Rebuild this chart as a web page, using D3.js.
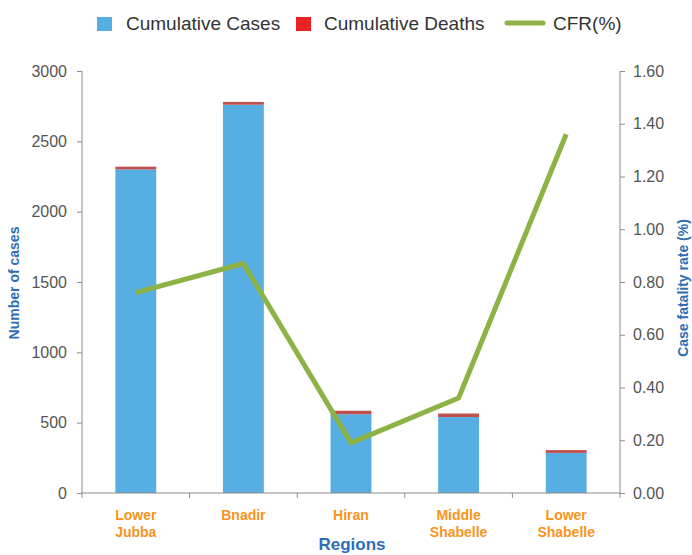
<!DOCTYPE html>
<html><head><meta charset="utf-8">
<script src="https://cdn.jsdelivr.net/npm/d3@7"></script>
<style>body{margin:0;background:#fff;font-family:"Liberation Sans",Arial,sans-serif}</style>
</head><body><svg id="c" width="692" height="555"></svg>
<script>
const regions = [["Lower","Jubba"],["Bnadir"],["Hiran"],["Middle","Shabelle"],["Lower","Shabelle"]];
const cases = [2300, 2760, 560, 540, 285];
const deaths = [20, 20, 25, 25, 20];
const cfr = [0.76, 0.87, 0.19, 0.36, 1.36];
const leftTicks = [0,500,1000,1500,2000,2500,3000];
const rightTicks = [0,0.2,0.4,0.6,0.8,1.0,1.2,1.4,1.6];

const svg = d3.select("#c");
const L=82, R=620, T=71, B=493;
const x = d3.scaleBand().domain(d3.range(regions.length)).range([L,R]).paddingInner(0.62).paddingOuter(0.31);
const xb = d3.scaleBand().domain(d3.range(regions.length)).range([L,R]);
const y = d3.scaleLinear().domain([0,3000]).range([B,T]);
const y2 = d3.scaleLinear().domain([0,1.6]).range([B,T]);
const axisCol="#8c8c8c", txtCol="#555";

// bars
svg.selectAll("rect.c").data(cases).join("rect").attr("class","c")
 .attr("x",(d,i)=>x(i)).attr("width",x.bandwidth())
 .attr("y",d=>y(d)).attr("height",d=>B-y(d)).attr("fill","#56aee2");
svg.selectAll("rect.d").data(deaths).join("rect").attr("class","d")
 .attr("x",(d,i)=>x(i)).attr("width",x.bandwidth())
 .attr("y",(d,i)=>y(cases[i]+d)).attr("height",(d,i)=>y(cases[i])-y(cases[i]+d)).attr("fill","#c0504d");

// axes
const ga=svg.append("g").attr("transform",`translate(${L},0)`).call(d3.axisLeft(y).tickValues(leftTicks).tickFormat(d3.format("d")).tickSize(5).tickPadding(10));
const gr=svg.append("g").attr("transform",`translate(${R},0)`).call(d3.axisRight(y2).tickValues(rightTicks).tickFormat(d3.format(".2f")).tickSize(5).tickPadding(8));
[ga,gr].forEach(g=>{g.selectAll("path,line").attr("stroke",axisCol);g.selectAll("path").attr("d",`M0,${T}V${B}`);
 g.selectAll("text").attr("fill",txtCol).style("font-size","16px").style("font-family","'Liberation Sans',Arial,sans-serif");});
// bottom axis
svg.append("line").attr("x1",L).attr("x2",R).attr("y1",B).attr("y2",B).attr("stroke",axisCol);
svg.selectAll("line.bt").data(d3.range(regions.length+1)).join("line").attr("class","bt")
 .attr("x1",i=>L+i*xb.bandwidth()).attr("x2",i=>L+i*xb.bandwidth()).attr("y1",B).attr("y2",B+5).attr("stroke",axisCol);
const xl=svg.selectAll("text.xl").data(regions).join("text").attr("class","xl")
 .attr("x",(d,i)=>xb(i)+xb.bandwidth()/2).attr("y",520).attr("text-anchor","middle")
 .attr("fill","#f7941d").style("font-size","14px").style("font-weight","bold");
xl.selectAll("tspan").data(d=>d).join("tspan").attr("x",function(){return this.parentNode.getAttribute("x");})
 .attr("dy",(d,i)=>i?17:0).text(d=>d);

// line
svg.append("path").datum(cfr).attr("fill","none").attr("stroke","#8db346").attr("stroke-width",5).attr("stroke-linejoin","round")
 .attr("d",d3.line().x((d,i)=>xb(i)+xb.bandwidth()/2).y(d=>y2(d)));

// titles
const blue="#2e6eb5";
svg.append("text").attr("transform","translate(19,283) rotate(-90)").attr("text-anchor","middle").attr("fill",blue)
 .style("font-size","14px").style("font-weight","bold").text("Number of cases");
svg.append("text").attr("transform","translate(688,288) rotate(-90)").attr("text-anchor","middle").attr("fill",blue)
 .style("font-size","14px").style("font-weight","bold").text("Case fatality rate (%)");
svg.append("text").attr("x",352).attr("y",550).attr("text-anchor","middle").attr("fill",blue)
 .style("font-size","17px").style("font-weight","bold").text("Regions");

// legend
const lg=svg.append("g").style("font-size","19px").attr("fill","#333");
lg.append("rect").attr("x",97).attr("y",17).attr("width",15).attr("height",14).attr("fill","#56aee2");
lg.append("text").attr("x",126).attr("y",30).text("Cumulative Cases");
lg.append("rect").attr("x",296).attr("y",17).attr("width",15).attr("height",14).attr("fill","#ee2222");
lg.append("text").attr("x",324).attr("y",30).text("Cumulative Deaths");
lg.append("line").attr("x1",507).attr("x2",543).attr("y1",23).attr("y2",23).attr("stroke","#8db346").attr("stroke-width",5).attr("stroke-linecap","round");
lg.append("text").attr("x",553).attr("y",30).text("CFR(%)");
</script></body></html>
